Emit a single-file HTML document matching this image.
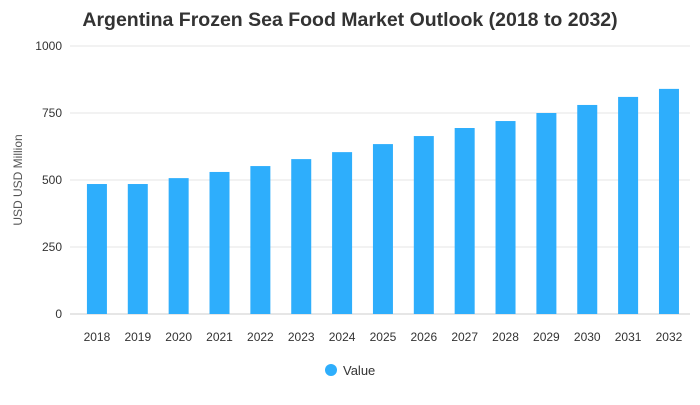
<!DOCTYPE html>
<html><head><meta charset="utf-8"><style>
body{margin:0;background:#fff;font-family:"Liberation Sans",sans-serif}
</style></head><body>
<svg id="c" width="700" height="400" xmlns="http://www.w3.org/2000/svg">
<text x="350" y="26" text-anchor="middle" font-size="19.5" font-weight="bold" fill="#333">Argentina Frozen Sea Food Market Outlook (2018 to 2032)</text>
<text transform="translate(22,180) rotate(-90)" text-anchor="middle" font-size="12" fill="#555">USD USD Million</text>
<g id="grid"></g><g id="bars"></g><g id="xl"></g>
<g><circle cx="331" cy="370" r="6" fill="#2eaefc"/><text x="343" y="375" font-size="13" fill="#333">Value</text></g>
</svg>
<script>
const categories=["2018","2019","2020","2021","2022","2023","2024","2025","2026","2027","2028","2029","2030","2031","2032"];
const values=[485,485,507,530,552,578,604,634,664,694,720,750,780,810,840];
const yTicks=[0,250,500,750,1000];
const NS="http://www.w3.org/2000/svg";
const y0=314,y1=46,left=76.5,band=40.86,bw=20;
const y=v=>y0-(v/1000)*(y0-y1);
const x=i=>left+band*i+band/2;
function mk(t,a,p){const e=document.createElementNS(NS,t);for(const k in a)e.setAttribute(k,a[k]);p.appendChild(e);return e;}
const g=document.getElementById('grid');
yTicks.forEach(t=>{
 const l=mk('line',{x1:70,x2:690,y1:y(t),y2:y(t),stroke:t===0?'#ccc':'#e6e6e6'},g);
 
 
 const tx=mk('text',{x:62,y:y(t)+4,'text-anchor':'end','font-size':12,fill:'#333'},g);
 tx.textContent=t;
 
 
});
const b=document.getElementById('bars'),xl=document.getElementById('xl');
values.forEach((v,i)=>{
 const r=mk('rect',{x:x(i)-bw/2,y:y(v),width:bw,height:y0-y(v),fill:'#2eaefc'},b);
 
 
 const t=mk('text',{x:x(i),y:341,'text-anchor':'middle','font-size':12,fill:'#333'},xl);
 t.textContent=categories[i];
 
 
});
</script>
</body></html>
